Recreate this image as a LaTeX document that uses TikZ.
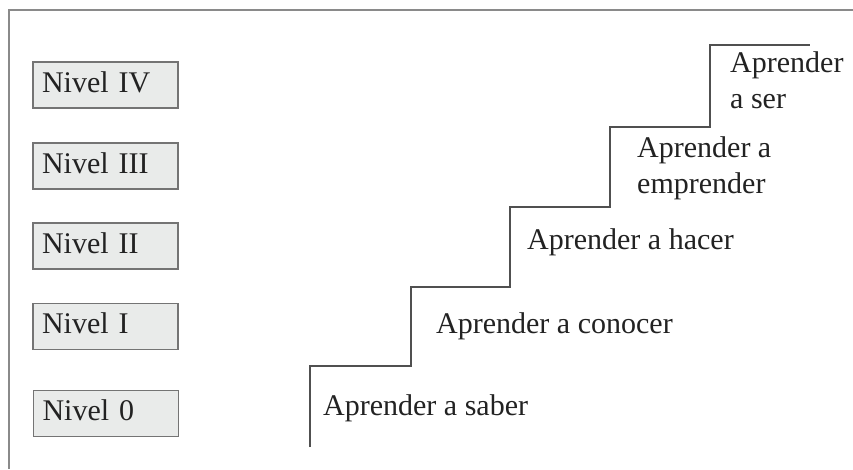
\documentclass[tikz,border=0pt]{standalone}
\usepackage{fontspec}
\setmainfont{Liberation Serif}
\begin{document}
\begin{tikzpicture}[x=1pt,y=-1pt,
  levelbox/.style={draw=boxline, fill=boxfill, line width=1.6pt,
    minimum width=145pt, minimum height=46pt, text width=127pt,
    inner xsep=9pt, align=left, text height=20pt, text depth=6pt,
    font=\fontsize{30}{36}\selectfont, text=ink},
  steplabel/.style={inner sep=0pt, align=left,
    font=\fontsize{30}{36}\selectfont, text=ink},
  stairline/.style={draw=stair, line width=2pt},
  framelinestyle/.style={draw=frameline, line width=2pt}]
  \definecolor{boxline}{HTML}{747474}
  \definecolor{boxfill}{HTML}{E9EBEA}
  \definecolor{ink}{HTML}{222222}
  \definecolor{stair}{HTML}{505050}
  \definecolor{frameline}{HTML}{8A8A8A}

  \useasboundingbox (0,0) rectangle (853,469);

  % open frame: top and left edges
  \coordinate (ftl) at (9,10);
  \coordinate (ftr) at (853,10);
  \coordinate (fbl) at (9,469);
  \draw[framelinestyle] (ftr) -- (ftl) -- (fbl);

  % level boxes
  \node[levelbox] (n4) at (105.5,85)    {Nivel IV};
  \node[levelbox] (n3) at (105.5,166)   {Nivel III};
  \node[levelbox] (n2) at (105.5,246)   {Nivel II};
  \node[levelbox] (n1) at (105.5,326.5) {Nivel I};
  \node[levelbox] (n0) at (106,413.5)   {Nivel 0};

  % staircase
  \coordinate (s0) at (310,447);
  \coordinate (s1) at (310,366);
  \coordinate (s2) at (411,366);
  \coordinate (s3) at (411,287);
  \coordinate (s4) at (510,287);
  \coordinate (s5) at (510,207);
  \coordinate (s6) at (610,207);
  \coordinate (s7) at (610,127);
  \coordinate (s8) at (710,127);
  \coordinate (s9) at (710,45);
  \coordinate (s10) at (810,45);
  \draw[stairline, line join=miter]
    (s0) -- (s1) -- (s2) -- (s3) -- (s4) -- (s5) -- (s6) -- (s7) -- (s8) -- (s9) -- (s10);

  % step labels
  \node[steplabel, anchor=base west] (a0) at (323,415) {Aprender a saber};
  \node[steplabel, anchor=base west] (a1) at (436,333) {Aprender a conocer};
  \node[steplabel, anchor=base west] (a2) at (527,249) {Aprender a hacer};
  \node[steplabel, anchor=north west] (a3) at (637,136.5) {Aprender a\\emprender};
  \node[steplabel, anchor=north west] (a4) at (730,51.5) {Aprender\\a ser};
\end{tikzpicture}
\end{document}
